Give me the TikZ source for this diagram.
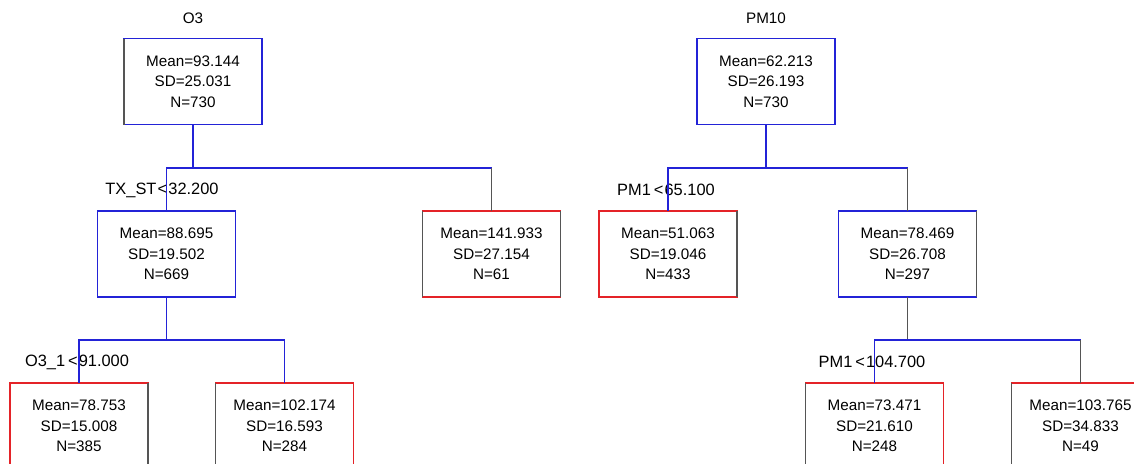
\documentclass[tikz,border=0pt]{standalone}
\usepackage{fontspec}
\setmainfont{Liberation Sans}
\usetikzlibrary{positioning}
\definecolor{treeblue}{RGB}{35,35,215}
\definecolor{treered}{RGB}{228,35,40}
\definecolor{edgegray}{RGB}{85,85,85}

\begin{document}
\begin{tikzpicture}[
        x=0.03cm, y=-0.03cm,
        splitbox/.style={rectangle, draw=treeblue, line width=1.4pt, outer sep=0pt, minimum width=4.14cm, minimum height=2.58cm, align=center, font=\fontsize{13}{17.5}\selectfont},
        leafbox/.style={splitbox, draw=treered},
        title/.style={inner sep=0pt, font=\fontsize{13}{16}\selectfont},
        splitlabel/.style={inner sep=0pt, font=\fontsize{14}{16}\selectfont},
        bluelink/.style={draw=treeblue, line width=1.4pt},
        greylink/.style={draw=edgegray, line width=1.4pt},
        greyside/.style={draw=edgegray, line width=1.4pt}
    ]
        \useasboundingbox (0,0) rectangle (1134,463);
        \clip (0,0) rectangle (1134,463);

        % O3 tree
        \node (o3title) [title] at (193,18) {O3};
        \node (o3root) [splitbox] at (193,81.5) {Mean=93.144 \\ SD=25.031 \\ N=730};
        \node (o3a) [splitbox] at (166.5,254) {Mean=88.695 \\ SD=19.502 \\ N=669};
        \node (o3b) [leafbox] at (491.5,254) {Mean=141.933 \\ SD=27.154 \\ N=61};
        \node (o3aa) [leafbox] at (79,426) {Mean=78.753 \\ SD=15.008 \\ N=385};
        \node (o3ab) [leafbox] at (284.5,426) {Mean=102.174 \\ SD=16.593 \\ N=284};
        \node (o3lab1) [splitlabel] at (162,190) {TX\_ST\kern1pt<\kern1pt32.200};
        \node (o3lab2) [splitlabel] at (77,362) {O3\_1\kern2.5pt<\kern1pt91.000};
        \coordinate (o3split) at (193,168);
        \coordinate (o3asplit) at (166.5,340);

        \draw [bluelink] (o3root.south) -- (o3split);
        \draw [bluelink] (o3a.north) |- (o3split) -- (o3split -| o3b.north);
        \draw [greylink] (o3split -| o3b.north) -- (o3b.north);
        \draw [bluelink] (o3a.south) -- (o3asplit);
        \draw [bluelink] (o3aa.north) |- (o3asplit) -| (o3ab.north);

        % darker sides
        \draw [greyside] (o3root.north west) -- (o3root.south west);
        \draw [greyside] (o3b.north west) -- (o3b.south west);
        \draw [greyside] (o3b.north east) -- (o3b.south east);
        \draw [greyside] (o3aa.north east) -- (o3aa.south east);
        \draw [greyside] (o3ab.north west) -- (o3ab.south west);

        % PM10 tree
        \node (pmtitle) [title] at (766,18) {PM10};
        \node (pmroot) [splitbox] at (766,81.5) {Mean=62.213 \\ SD=26.193 \\ N=730};
        \node (pma) [leafbox] at (668,254) {Mean=51.063 \\ SD=19.046 \\ N=433};
        \node (pmb) [splitbox] at (907.5,254) {Mean=78.469 \\ SD=26.708 \\ N=297};
        \node (pmba) [leafbox] at (874.5,426) {Mean=73.471 \\ SD=21.610 \\ N=248};
        \node (pmbb) [leafbox] at (1080.5,426) {Mean=103.765 \\ SD=34.833 \\ N=49};
        \node (pmlab1) [splitlabel] at (666,190) {PM1\kern2.5pt<\kern1pt65.100};
        \node (pmlab2) [splitlabel] at (872,362) {PM1\kern2.5pt<\kern1pt104.700};
        \coordinate (pmsplit) at (766,168);
        \coordinate (pmbsplit) at (907.5,340);

        \draw [bluelink] (pmroot.south) -- (pmsplit);
        \draw [bluelink] (pma.north) |- (pmsplit) -- (pmsplit -| pmb.north);
        \draw [greylink] (pmsplit -| pmb.north) -- (pmb.north);
        \draw [greylink] (pmb.south) -- (pmbsplit);
        \draw [bluelink] (pmba.north) |- (pmbsplit) -- (pmbsplit -| pmbb.north);
        \draw [greylink] (pmbsplit -| pmbb.north) -- (pmbb.north);

        % darker sides
        \draw [greyside] (pma.north east) -- (pma.south east);
        \draw [greyside] (pmb.north east) -- (pmb.south east);
        \draw [greyside] (pmba.north west) -- (pmba.south west);
        \draw [greyside] (pmbb.north west) -- (pmbb.south west);
    \end{tikzpicture}
\end{document}
